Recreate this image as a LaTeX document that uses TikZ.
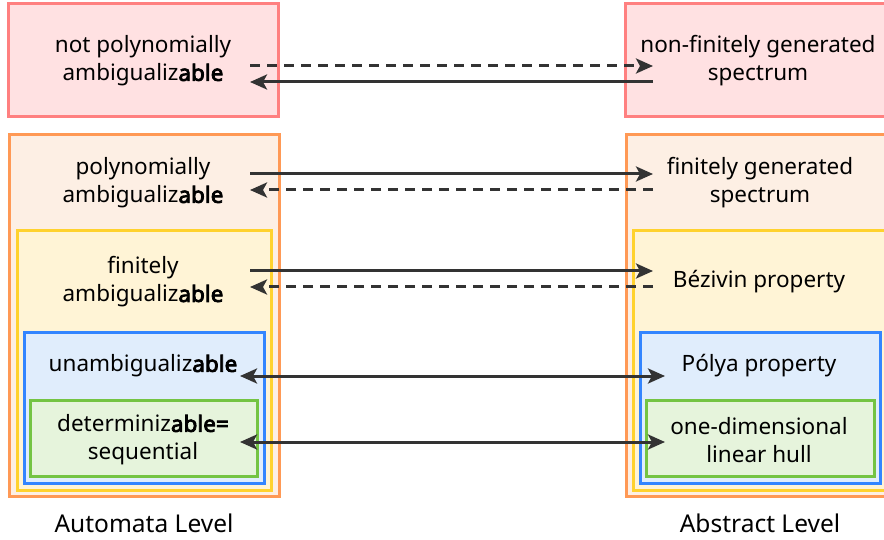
\documentclass[tikz,border=0pt]{standalone}
\usepackage{fontspec}
\setmainfont{Noto Sans}[AutoFakeBold=3.5]
\usetikzlibrary{arrows.meta}
\definecolor{redF}{HTML}{FFE1E2}
\definecolor{redD}{HTML}{FF8080}
\definecolor{orF}{HTML}{FDEFE4}
\definecolor{orD}{HTML}{FF9955}
\definecolor{yeF}{HTML}{FFF4D6}
\definecolor{yeD}{HTML}{FFD22E}
\definecolor{blF}{HTML}{E0EDFC}
\definecolor{blD}{HTML}{3385FF}
\definecolor{grF}{HTML}{E6F4DC}
\definecolor{grD}{HTML}{74C443}
\definecolor{arr}{HTML}{333333}
\tikzset{
  box/.style={rectangle, line width=3pt, inner sep=0pt},
  redbox/.style={box, fill=redF, draw=redD},
  orbox/.style={box, fill=orF, draw=orD},
  yebox/.style={box, fill=yeF, draw=yeD},
  blbox/.style={box, fill=blF, draw=blD},
  grbox/.style={box, fill=grF, draw=grD},
  txt/.style={align=center, inner sep=0pt, font=\fontsize{22.5}{28}\selectfont, text=black},
  lvl/.style={txt, font=\fontsize{24.5}{28}\selectfont},
  tip/.style={Stealth[length=17pt,width=15pt,inset=4pt]},
  conn/.style={draw=arr, line width=3pt, -{Stealth[length=17pt,width=15pt,inset=4pt]}},
  dconn/.style={conn, dash pattern=on 10pt off 7pt},
  bconn/.style={draw=arr, line width=3pt, {Stealth[length=17pt,width=15pt,inset=4pt]}-{Stealth[length=17pt,width=15pt,inset=4pt]}},
}
\begin{document}
\begin{tikzpicture}[x=1pt,y=-1pt]
\useasboundingbox (0,0) rectangle (884,540);
\clip (0,0) rectangle (884,540);
% left boxes
\node[redbox, minimum width=269.5pt, minimum height=113pt] (redL) at (143.25,60.5) {};
\node[orbox, minimum width=270pt, minimum height=361pt] (orL) at (144,315.5) {};
\node[yebox, minimum width=254pt, minimum height=259pt] (yeL) at (144,360.5) {};
\node[blbox, minimum width=240pt, minimum height=151pt] (blL) at (144,407.5) {};
\node[grbox, minimum width=227pt, minimum height=76pt] (grL) at (143.5,438) {};
% right boxes
\node[redbox, minimum width=270pt, minimum height=113pt] (redR) at (760,60.5) {};
\node[orbox, minimum width=270pt, minimum height=361pt] (orR) at (761,315.5) {};
\node[yebox, minimum width=254pt, minimum height=259pt] (yeR) at (760,360.5) {};
\node[blbox, minimum width=240pt, minimum height=151pt] (blR) at (760,407.5) {};
\node[grbox, minimum width=228pt, minimum height=76pt] (grR) at (760,438) {};
% texts
\node[txt] (t1L) at (143,61) {not polynomially\\ambigualiz\textbf{able}};
\node[txt] (t1R) at (758,61) {non-finitely generated\\spectrum};
\node[txt] (t2L) at (143,183) {polynomially\\ambigualiz\textbf{able}};
\node[txt] (t2R) at (760,183) {finitely generated\\spectrum};
\node[txt] (t3L) at (143,282) {finitely\\ambigualiz\textbf{able}};
\node[txt] (t3R) at (759,282) {Bézivin property};
\node[txt] (t4L) at (143,366) {unambigualiz\textbf{able}};
\node[txt] (t4R) at (759,366) {Pólya property};
\node[txt] (t5L) at (143,440) {determiniz\textbf{able=}\\sequential};
\node[txt] (t5R) at (759,440) {one-dimensional\\linear hull};
\node[lvl] (levL) at (144,523) {Automata Level};
\node[lvl] (levR) at (760,523) {Abstract Level};
% connector end points
\coordinate (a1L) at (250,66); \coordinate (a1R) at (653,66);
\coordinate (b1L) at (250,82); \coordinate (b1R) at (653,82);
\coordinate (a2L) at (250,174); \coordinate (a2R) at (653,174);
\coordinate (b2L) at (250,190); \coordinate (b2R) at (653,190);
\coordinate (a3L) at (250,271); \coordinate (a3R) at (653,271);
\coordinate (b3L) at (250,287); \coordinate (b3R) at (653,287);
\coordinate (a4L) at (240,376); \coordinate (a4R) at (665,376);
\coordinate (a5L) at (240,442); \coordinate (a5R) at (665,442);
% connectors
\draw[dconn] (a1L) -- (a1R);
\draw[conn] (b1R) -- (b1L);
\draw[conn] (a2L) -- (a2R);
\draw[dconn] (b2R) -- (b2L);
\draw[conn] (a3L) -- (a3R);
\draw[dconn] (b3R) -- (b3L);
\draw[bconn] (a4L) -- (a4R);
\draw[bconn] (a5L) -- (a5R);
\end{tikzpicture}
\end{document}
